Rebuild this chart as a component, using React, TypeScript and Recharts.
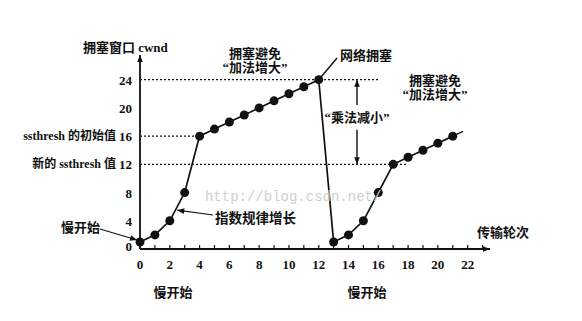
import React from 'react';
import { ComposedChart, Line, XAxis, YAxis, ReferenceLine, ReferenceDot } from 'recharts';

// transmission rounds and congestion window (in MSS)
const rounds = [0, 1, 2, 3, 4, 5, 6, 7, 8, 9, 10, 11, 12, 13, 14, 15, 16, 17, 18, 19, 20, 21];
const cwnd = [1, 2, 4, 8, 16, 17, 18, 19, 20, 21, 22, 23, 24, 1, 2, 4, 8, 12, 13, 14, 15, 16];

const xTicks = [0, 1, 2, 3, 4, 5, 6, 7, 8, 9, 10, 11, 12, 13, 14, 15, 16, 17, 18, 19, 20, 21, 22, 23];
const yTicks = [0, 4, 8, 12, 16, 20, 24];
const yPrefix: Record<number, string> = { 16: 'ssthresh 的初始值', 12: '新的 ssthresh 值' };

const peak = 24;
const initSsthresh = 16;
const newSsthresh = 12;

const data = rounds.map((r, i) => ({ round: r, cwnd: cwnd[i] }));

const FONT = "'Liberation Serif', 'Noto Sans CJK SC', serif";
const INK = '#111';

function XTick({ x, y, payload }: any) {
  const v = payload.value;
  return (
    <g>
      <line x1={x} y1={y} x2={x} y2={y - 4} stroke={INK} strokeWidth={1.2} />
      {v % 2 === 0 && v <= 22 && (
        <text x={x} y={y + 15} textAnchor="middle" dominantBaseline="central" fontFamily={FONT} fontSize={13} fontWeight={700} fill={INK}>
          {v}
        </text>
      )}
    </g>
  );
}

function YTick({ x, y, payload }: any) {
  const v = payload.value;
  return (
    <text x={x} y={v === 0 ? y - 3 : y} textAnchor="end" dominantBaseline="central" fontFamily={FONT} fontWeight={700} fill={INK}>
      {yPrefix[v] && <tspan fontSize={12}>{yPrefix[v] + ' '}</tspan>}
      <tspan fontSize={13}>{v}</tspan>
    </text>
  );
}

function note(key: string, x: number, y: number, text: string, opts: any = {}) {
  const { anchor = 'start', size = 13, weight = 700, fill = INK, family = FONT } = opts;
  return (
    <ReferenceDot
      key={key}
      x={x}
      y={y}
      r={0}
      ifOverflow="visible"
      shape={(p: any) => (
        <text x={p.cx} y={p.cy} textAnchor={anchor} dominantBaseline="central" fontFamily={family} fontSize={size} fontWeight={weight} fill={fill}>
          {text}
        </text>
      )}
    />
  );
}

function seg(key: string, a: [number, number], b: [number, number], opts: any = {}) {
  return (
    <ReferenceLine
      key={key}
      segment={[{ x: a[0], y: a[1] }, { x: b[0], y: b[1] }]}
      ifOverflow="visible"
      stroke={INK}
      strokeWidth={opts.width ?? 1.4}
      strokeDasharray={opts.dash}
      markerEnd={opts.arrow ? 'url(#arrow)' : undefined}
    />
  );
}

export default function App() {
  return (
    <div style={{ position: 'absolute', left: 0, top: 0, width: 582, height: 321, background: '#fff' }}>
      <svg width={0} height={0} style={{ position: 'absolute' }}>
        <defs>
          <marker id="arrow" viewBox="0 0 10 10" refX="10" refY="5" markerWidth="9" markerHeight="7" markerUnits="userSpaceOnUse" orient="auto">
            <path d="M0,1 L10,5 L0,9 z" fill={INK} />
          </marker>
        </defs>
      </svg>
      <ComposedChart width={582} height={321} data={data} margin={{ top: 55, right: 92, bottom: 42, left: 0 }}>
        <XAxis
          type="number"
          dataKey="round"
          domain={[0, 23.5]}
          ticks={xTicks}
          interval={0}
          axisLine={false}
          tickLine={false}
          tickSize={0}
          tickMargin={0}
          height={30}
          tick={<XTick />}
        />
        <YAxis
          type="number"
          domain={[0, 27.5]}
          ticks={yTicks}
          interval={0}
          axisLine={false}
          tickLine={false}
          width={140}
          tick={<YTick />}
        />

        {/* dotted guide lines */}
        {seg('g24', [0, peak], [16.1, peak], { dash: '2 2', width: 1.2 })}
        {seg('g16', [0, initSsthresh], [4, initSsthresh], { dash: '2 2', width: 1.2 })}
        {seg('g12', [0, newSsthresh], [18, newSsthresh], { dash: '2 2', width: 1.2 })}

        {/* axes with arrows */}
        {seg('ax', [0, 0], [23.5, 0], { arrow: true, width: 1.8 })}
        {seg('ay', [0, 0], [0, 27.5], { arrow: true, width: 1.8 })}

        {/* multiplicative decrease arrows */}
        {seg('md1', [14.57, 20.4], [14.57, peak], { arrow: true })}
        {seg('md2', [14.57, 16.9], [14.57, newSsthresh], { arrow: true })}

        {/* leaders */}
        {seg('l1', [12, 24], [13.23, 27.07])}
        {seg('l2', [21, 16], [21.69, 16.69])}
        {seg('l3', [-2.69, 2.83], [-0.2, 1.28], { arrow: true, width: 1.2 })}
        {seg('l4', [4.9, 4.82], [2.5, 5.5], { arrow: true, width: 1.2 })}

        <Line
          type="linear"
          dataKey="cwnd"
          stroke={INK}
          strokeWidth={1.7}
          dot={{ r: 4.5, fill: INK, stroke: INK, strokeWidth: 0 }}
          isAnimationActive={false}
        />

        {note('wm', 4.36, 7.37, 'http://blog.csdn.net/', { size: 14, weight: 400, fill: '#cfcfcf', family: "'Liberation Mono', monospace" })}
        {note('t1', -3.83, 28.63, '拥塞窗口 cwnd')}
        {note('t2', 7.72, 27.78, '拥塞避免', { anchor: 'middle' })}
        {note('t3', 7.72, 25.66, '“加法增大”', { anchor: 'middle' })}
        {note('t4', 13.43, 27.5, '网络拥塞')}
        {note('t5', 19.81, 23.95, '拥塞避免', { anchor: 'middle' })}
        {note('t6', 19.81, 21.83, '“加法增大”', { anchor: 'middle' })}
        {note('t7', 14.57, 18.57, '“乘法减小”', { anchor: 'middle' })}
        {note('t8', 22.63, 2.27, '传输轮次')}
        {note('t9', 5.04, 4.39, '指数规律增长', { size: 13.5 })}
        {note('t10', -2.69, 2.98, '慢开始', { anchor: 'end' })}
        {note('t11', 2.22, -6.1, '慢开始', { anchor: 'middle' })}
        {note('t12', 15.24, -6.1, '慢开始', { anchor: 'middle' })}
      </ComposedChart>
    </div>
  );
}
